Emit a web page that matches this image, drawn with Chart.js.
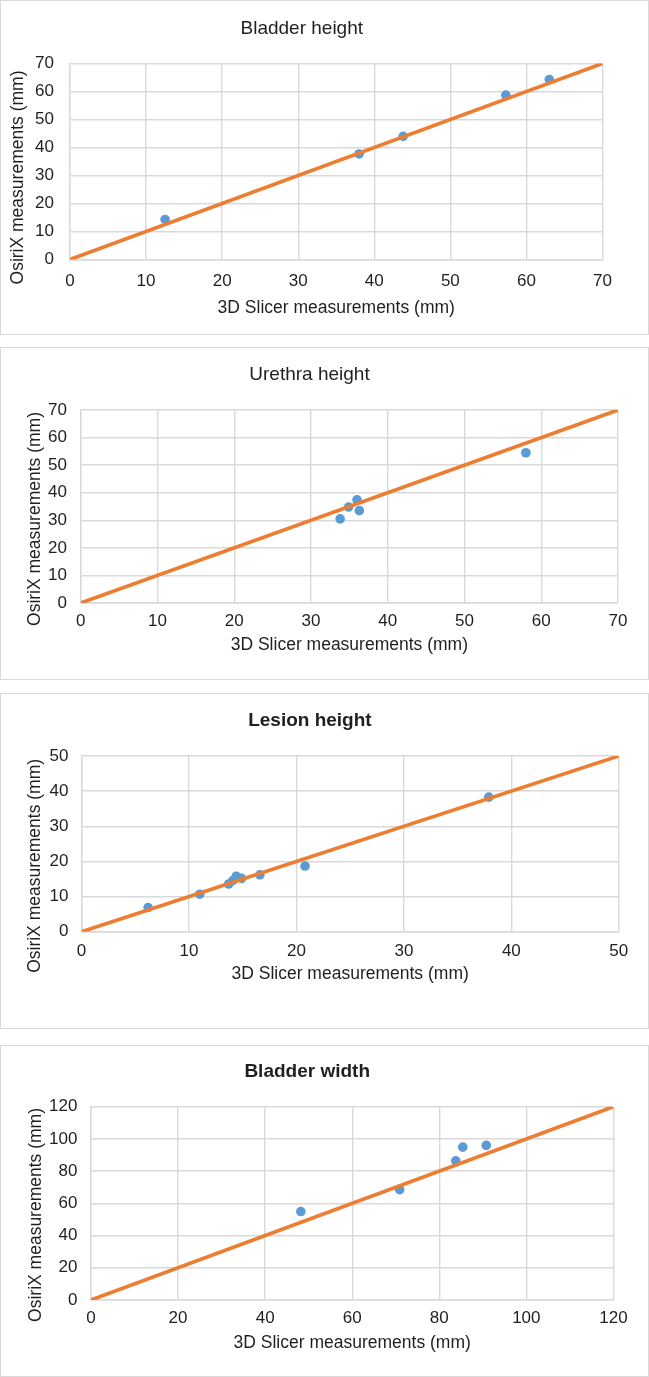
<!DOCTYPE html>
<html>
<head>
<meta charset="utf-8">
<script src="https://cdn.jsdelivr.net/npm/chart.js@4.4.1/dist/chart.umd.min.js"></script>
<style>
  html, body { margin: 0; padding: 0; background: #ffffff; }
  body { width: 649px; height: 1377px; position: relative; overflow: hidden; }
  .panel { position: absolute; left: 0; width: 649px; box-sizing: border-box; border: 1px solid #d9d9d9; background: #fff; }
  .panel canvas { display: block; }
</style>
</head>
<body>
<div class="panel" style="top:0px;height:335px;"><canvas id="c1" width="647" height="333"></canvas></div>
<div class="panel" style="top:347px;height:333px;"><canvas id="c2" width="647" height="331"></canvas></div>
<div class="panel" style="top:693px;height:336px;"><canvas id="c3" width="647" height="334"></canvas></div>
<div class="panel" style="top:1045px;height:332px;"><canvas id="c4" width="647" height="330"></canvas></div>
<script>
// ---- Data ----
const bladderHeightSlicer = [12.5, 38.0, 43.8, 57.3, 63.0];
const bladderHeightOsirix = [14.3, 37.7, 44.0, 58.7, 64.3];
const bladderHeightTicks = [0, 10, 20, 30, 40, 50, 60, 70];

const urethraHeightSlicer = [33.8, 34.9, 36.0, 36.3, 58.0];
const urethraHeightOsirix = [30.5, 34.8, 37.4, 33.5, 54.5];
const urethraHeightTicks = [0, 10, 20, 30, 40, 50, 60, 70];

const lesionHeightSlicer = [6.2, 11.0, 13.7, 14.1, 14.4, 14.9, 16.6, 20.8, 37.9];
const lesionHeightOsirix = [6.9, 10.7, 13.6, 14.6, 15.8, 15.2, 16.2, 18.7, 38.3];
const lesionHeightTicks = [0, 10, 20, 30, 40, 50];

const bladderWidthSlicer = [48.2, 70.9, 83.8, 85.4, 90.8];
const bladderWidthOsirix = [54.9, 68.5, 86.4, 94.9, 96.0];
const bladderWidthTicks = [0, 20, 40, 60, 80, 100, 120];

const chartTitles = ['Bladder height', 'Urethra height', 'Lesion height', 'Bladder width'];
const xAxisTitle = '3D Slicer measurements (mm)';
const yAxisTitle = 'OsiriX measurements (mm)';

// ---- Styling ----
const FONT = "'Liberation Sans', Arial, sans-serif";
const TEXT = '#1f1f1f';
const GRID = '#d9d9d9';
const BLUE = '#5B9BD5';
const ORANGE = '#ED7D31';

// Plugin: shift the y-axis title vertically (Excel places it slightly lower)
const shiftYTitle = {
  id: 'shiftYTitle',
  beforeDraw(chart, args, opts) {
    const s = chart.scales.y;
    if (s && !s._shiftPatched) {
      const orig = s.drawTitle;
      s.drawTitle = function () {
        const c = this.ctx;
        c.save();
        c.translate(0, opts.dy || 0);
        orig.apply(this, arguments);
        c.restore();
      };
      s._shiftPatched = true;
    }
  }
};

function makeChart(id, title, bold, xs, ys, ticks, L) {
  const pts = xs.map((x, i) => ({ x: x, y: ys[i] }));
  const lo = ticks[0], hi = ticks[ticks.length - 1], step = ticks[1] - ticks[0];
  const identity = [{ x: lo, y: lo }, { x: hi, y: hi }];
  return new Chart(document.getElementById(id), {
    type: 'scatter',
    data: {
      datasets: [
        {
          label: 'Measurements',
          data: pts,
          backgroundColor: BLUE,
          borderColor: BLUE,
          borderWidth: 0,
          pointRadius: 4.8,
          pointHoverRadius: 4.8,
          order: 1
        },
        {
          label: 'Line of identity',
          type: 'line',
          data: identity,
          borderColor: ORANGE,
          borderWidth: 3.6,
          pointRadius: 0,
          fill: false,
          tension: 0,
          order: 0
        }
      ]
    },
    options: {
      responsive: false,
      animation: false,
      devicePixelRatio: 1,
      layout: { padding: { left: 0, right: L.right, top: 0, bottom: 0 } },
      plugins: {
        legend: { display: false },
        tooltip: { enabled: false },
        title: {
          display: true,
          text: title,
          color: TEXT,
          font: { family: FONT, size: 19, weight: bold ? 'bold' : 'normal', lineHeight: 1.2 },
          padding: { top: L.tTop, bottom: L.tBot }
        },
        shiftYTitle: { dy: L.dy }
      },
      scales: {
        x: {
          type: 'linear',
          min: lo, max: hi,
          afterFit: (s) => { s.height = L.xH; },
          ticks: { stepSize: step, color: TEXT, padding: L.xTickPad, font: { family: FONT, size: 17, lineHeight: 1.2 } },
          grid: { color: GRID, lineWidth: 1.4, drawTicks: false },
          border: { display: true, color: GRID, width: 1.4 },
          title: {
            display: true, text: xAxisTitle, color: TEXT,
            font: { family: FONT, size: 17.5, lineHeight: 1.2 },
            padding: { top: 0, bottom: L.xTitlePad }
          }
        },
        y: {
          type: 'linear',
          min: lo, max: hi,
          afterFit: (s) => { s.width = L.yW; },
          ticks: { stepSize: step, color: TEXT, padding: L.yTickPad, font: { family: FONT, size: 17, lineHeight: 1.2 } },
          grid: { color: GRID, lineWidth: 1.4, drawTicks: false },
          border: { display: true, color: GRID, width: 1.4 },
          title: {
            display: true, text: yAxisTitle, color: TEXT,
            font: { family: FONT, size: 17.5, lineHeight: 1.2 },
            padding: { top: L.yTitlePad, bottom: 0 }
          }
        }
      }
    },
    plugins: [shiftYTitle]
  });
}

makeChart('c1', chartTitles[0], false, bladderHeightSlicer, bladderHeightOsirix, bladderHeightTicks,
  { right: 45.5, yW: 69, xH: 74.5, xTickPad: 11.3, xTitlePad: 15.5, yTickPad: 16, yTitlePad: 7.1, tTop: 16.1, tBot: 23.6, dy: 16 });
makeChart('c2', chartTitles[1], false, urethraHeightSlicer, urethraHeightOsirix, urethraHeightTicks,
  { right: 30, yW: 79.7, xH: 76, xTickPad: 8.5, xTitlePad: 23, yTickPad: 13.7, yTitlePad: 23.5, tTop: 15.6, tBot: 23.6, dy: 12.5 });
makeChart('c3', chartTitles[2], true, lesionHeightSlicer, lesionHeightOsirix, lesionHeightTicks,
  { right: 29.2, yW: 80.5, xH: 96.2, xTickPad: 9, xTitlePad: 42.9, yTickPad: 13, yTitlePad: 23.7, tTop: 15.4, tBot: 23.8, dy: 22 });
makeChart('c4', chartTitles[3], true, bladderWidthSlicer, bladderWidthOsirix, bladderWidthTicks,
  { right: 34.6, yW: 90, xH: 76, xTickPad: 7.8, xTitlePad: 22.5, yTickPad: 13.6, yTitlePad: 24.9, tTop: 14.3, tBot: 23.6, dy: 11.6 });
</script>
</body>
</html>
